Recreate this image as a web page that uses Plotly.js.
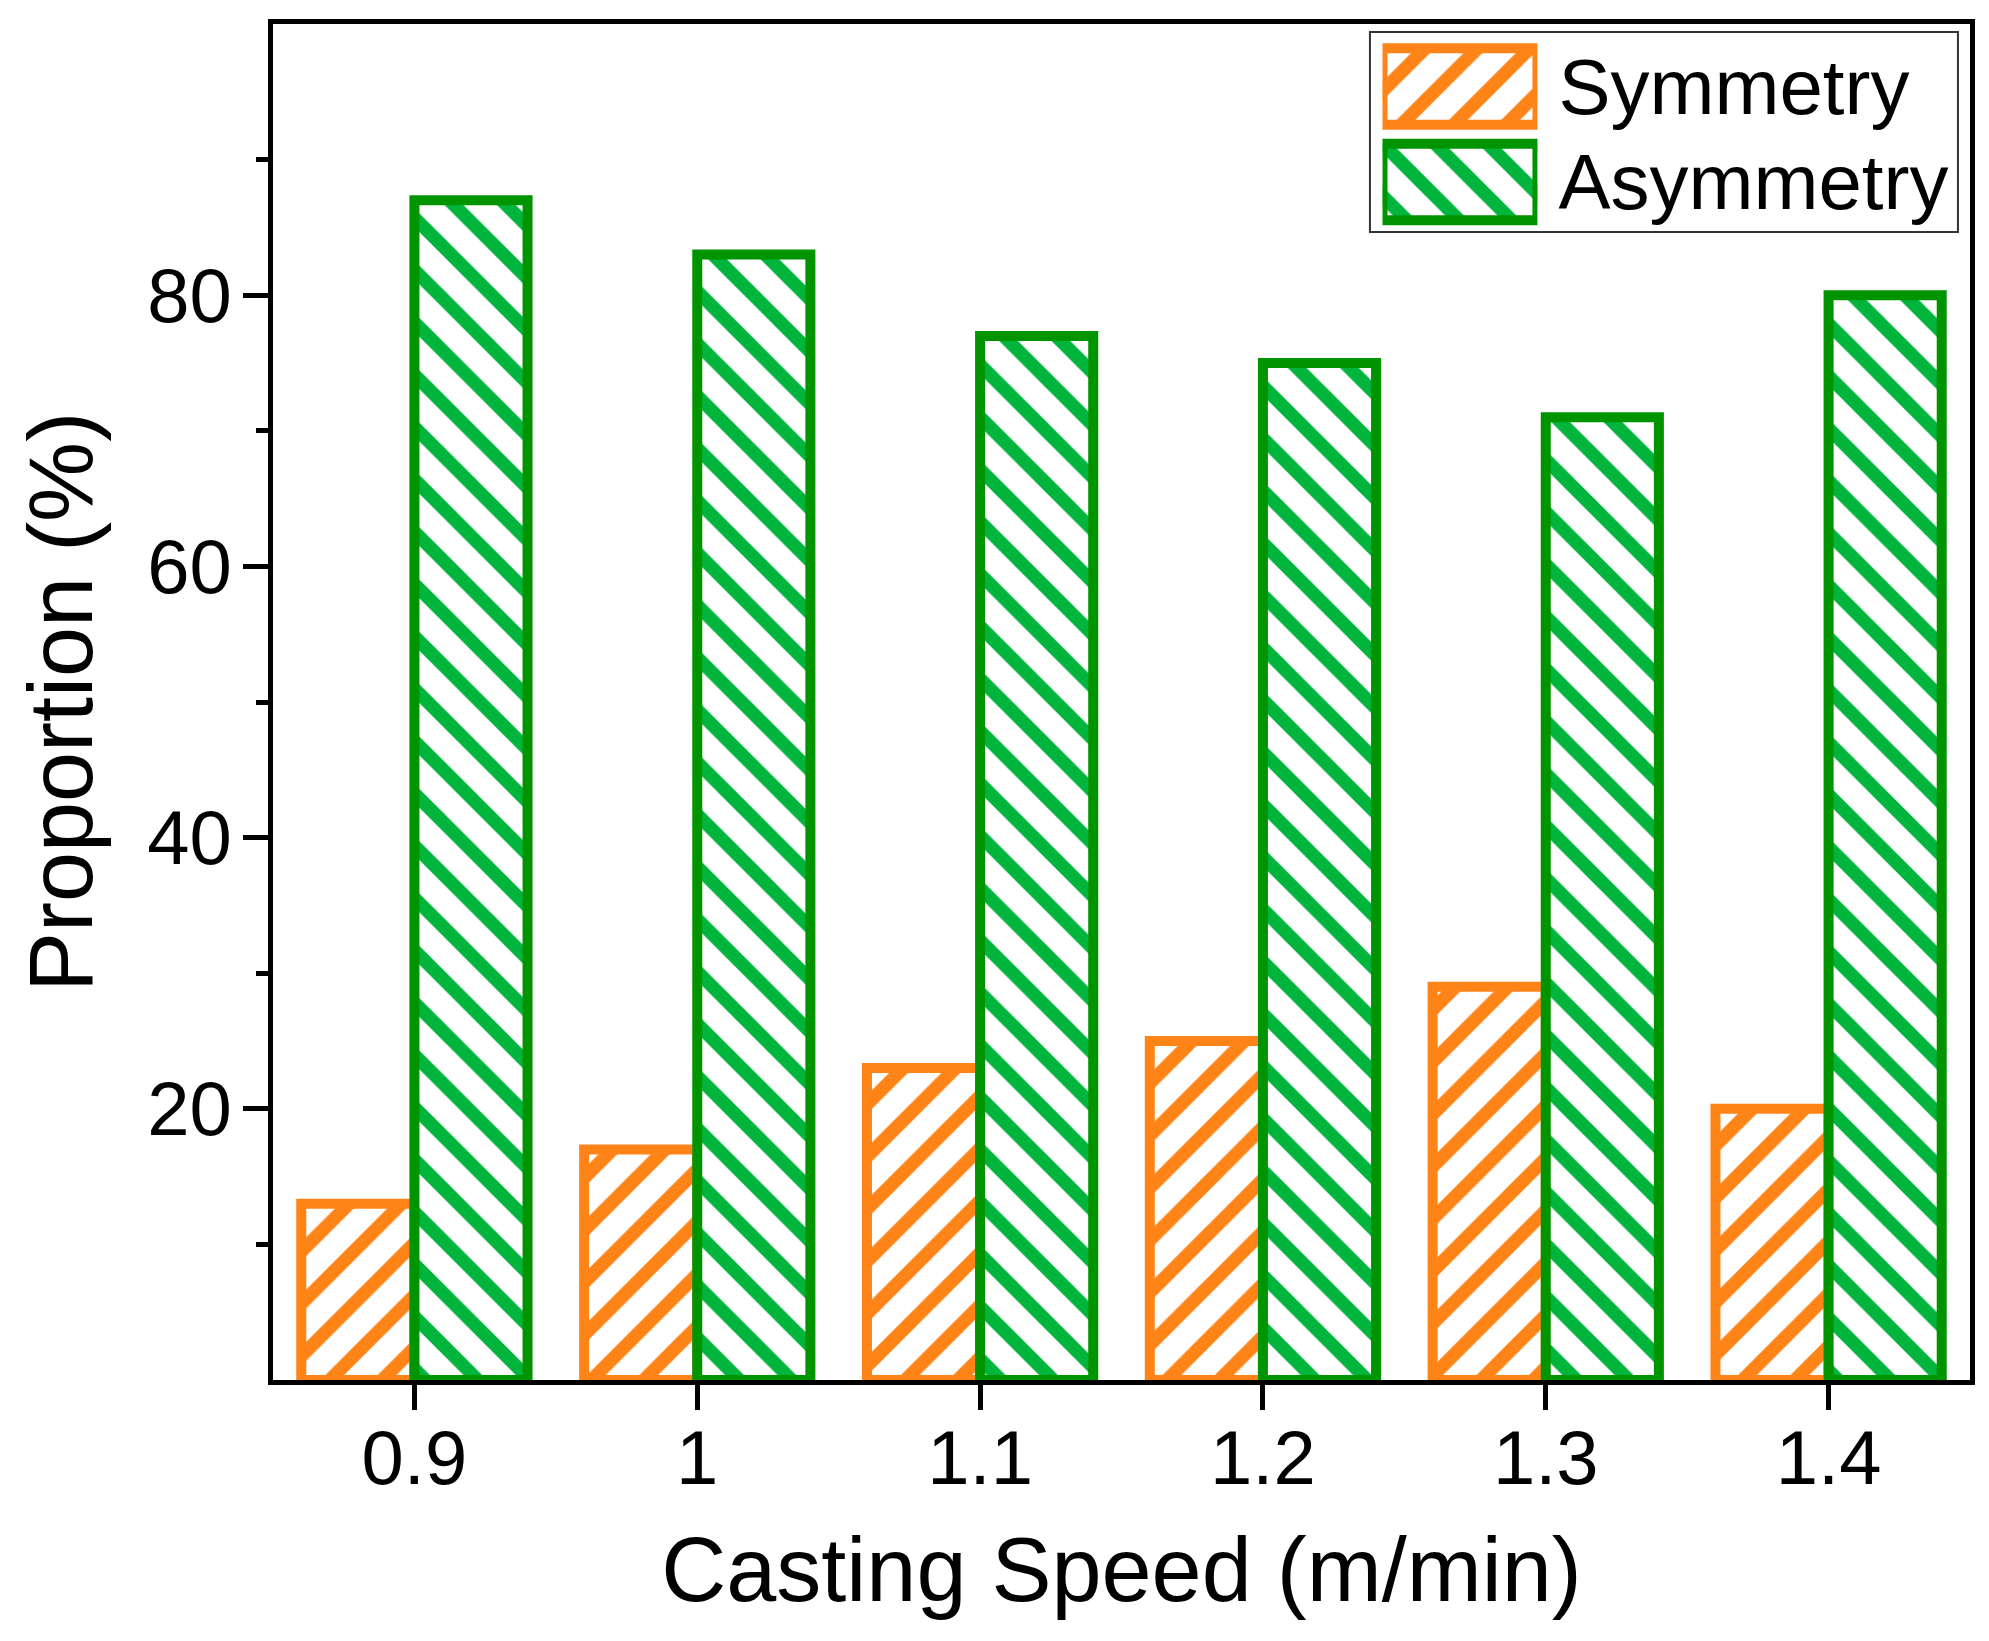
<!DOCTYPE html>
<html>
<head>
<meta charset="utf-8">
<script src="https://cdn.plot.ly/plotly-3.0.1.min.js"></script>
<style>
  html, body { margin: 0; padding: 0; background: #fff; }
  #myDiv { width: 1989px; height: 1641px; }
</style>
</head>
<body>
<div id="myDiv"></div>
<script>
// casting speed categories (m/min)
const speeds = ["0.9", "1", "1.1", "1.2", "1.3", "1.4"];
// proportion of each shape (%)
const symmetry = [13, 17, 23, 25, 29, 20];
const asymmetry = [87, 83, 77, 75, 71, 80];
const seriesNames = ["Symmetry", "Asymmetry"];
const yTicks = [20, 40, 60, 80];

const font = "Liberation Sans, Arial, sans-serif";

// hatch styles for the two series
const symMarker = {
  color: "#ffffff",
  line: { color: "#ff8418", width: 10 },
  pattern: { shape: "/", fgcolor: "#ff8418", bgcolor: "#ffffff", size: 37, solidity: 0.36 },
};
const asymMarker = {
  color: "#ffffff",
  line: { color: "#009400", width: 10 },
  pattern: { shape: "\\", fgcolor: "#00b43c", bgcolor: "#ffffff", size: 37, solidity: 0.36 },
};

let trace1 = {
  type: "bar",
  name: seriesNames[0],
  x: speeds,
  y: symmetry,
  marker: symMarker,
};

let trace2 = {
  type: "bar",
  name: seriesNames[1],
  x: speeds,
  y: asymmetry,
  marker: asymMarker,
};

// big legend keys, drawn as full-length bars on a small key axis
let key1 = {
  type: "bar",
  orientation: "h",
  name: seriesNames[0],
  y: [seriesNames[0]],
  x: [1],
  marker: symMarker,
  xaxis: "x2",
  yaxis: "y2",
};
let key2 = {
  type: "bar",
  orientation: "h",
  name: seriesNames[1],
  y: [seriesNames[1]],
  x: [1],
  marker: asymMarker,
  xaxis: "x2",
  yaxis: "y2",
};

let data = [trace1, trace2, key1, key2];

let layout = {
  width: 1989,
  height: 1641,
  paper_bgcolor: "#ffffff",
  plot_bgcolor: "#ffffff",
  font: { family: font, color: "#000000", size: 76 },
  margin: { l: 273, r: 19, t: 24, b: 261 },
  barmode: "group",
  bargap: 0.2,
  bargroupgap: 0,
  showlegend: false,
  xaxis: {
    type: "category",
    range: [-0.5, 5.5],
    domain: [0, 1],
    showline: true,
    linecolor: "#000000",
    linewidth: 5,
    mirror: true,
    showgrid: false,
    zeroline: false,
    ticks: "outside",
    ticklen: 25,
    tickwidth: 5,
    tickcolor: "#000000",
    ticklabelstandoff: -17,
    tickfont: { family: font, size: 76 },
    minor: { ticks: "outside", ticklen: 12, tickwidth: 5, tickcolor: "#000000", dtick: 1, tick0: 0.5 },
    title: { text: "Casting Speed (m/min)", font: { family: font, size: 90 }, standoff: 40 },
    automargin: false,
  },
  yaxis: {
    range: [0, 100],
    domain: [0, 1],
    showline: true,
    linecolor: "#000000",
    linewidth: 5,
    mirror: true,
    showgrid: false,
    zeroline: false,
    tickmode: "array",
    tickvals: yTicks,
    ticktext: yTicks.map(String),
    ticks: "outside",
    ticklen: 25,
    tickwidth: 5,
    tickcolor: "#000000",
    ticklabelstandoff: -4,
    tickfont: { family: font, size: 76 },
    minor: { ticks: "outside", ticklen: 12, tickwidth: 5, tickcolor: "#000000", dtick: 20, tick0: 10 },
    title: { text: "Proportion (%)", font: { family: font, size: 90 }, standoff: 26 },
    automargin: false,
  },
  // legend key area
  xaxis2: {
    domain: [0.6538, 0.7451],
    anchor: "y2",
    range: [0, 1],
    visible: false,
    fixedrange: true,
  },
  yaxis2: {
    domain: [0.8483, 0.9891],
    anchor: "x2",
    type: "category",
    range: [1.5, -0.5],
    side: "right",
    showline: false,
    showgrid: false,
    zeroline: false,
    ticks: "",
    ticklabelstandoff: 20,
    tickfont: { family: font, size: 78, color: "#000000" },
    fixedrange: true,
  },
  shapes: [
    {
      type: "rect",
      xref: "paper",
      yref: "paper",
      x0: 0.6464,
      x1: 0.9929,
      y0: 0.8466,
      y1: 0.9941,
      line: { color: "#333333", width: 2 },
      fillcolor: "#ffffff",
      layer: "below",
    },
  ],
};

Plotly.newPlot("myDiv", data, layout, { staticPlot: true, displayModeBar: false });
</script>
</body>
</html>
